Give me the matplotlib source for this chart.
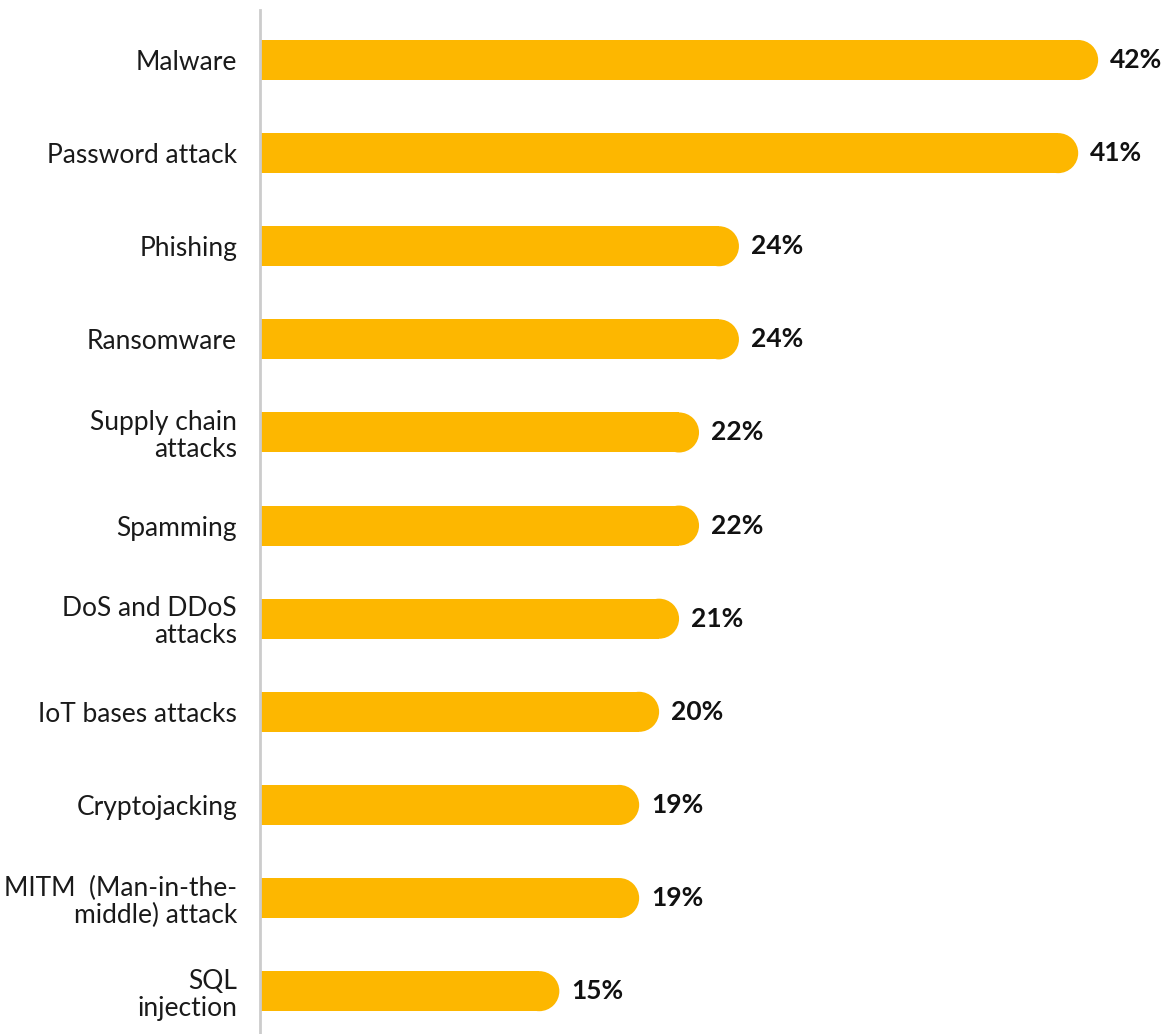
import matplotlib
matplotlib.use('Agg')
import matplotlib.pyplot as plt
from matplotlib.patches import Ellipse, Rectangle

plt.rcParams['font.family'] = ['Lato', 'DejaVu Sans']

# attack types, top to bottom
categories = ['Malware', 'Password attack', 'Phishing', 'Ransomware',
              'Supply chain\nattacks', 'Spamming', 'DoS and DDoS\nattacks',
              'IoT bases attacks', 'Cryptojacking',
              'MITM  (Man-in-the-\nmiddle) attack', 'SQL\ninjection']
shares = [42, 41, 24, 24, 22, 22, 21, 20, 19, 19, 15]

BAR_COLOR = '#FDB700'
BAR_H = 0.43

W, H = 1166, 1034
fig = plt.figure(figsize=(W / 100., H / 100.), dpi=100)
ax = fig.add_axes([260. / W, 0., 1. - 260. / W, 1024. / H])
ax.set_xlim(0, 45.4)
ax.set_ylim(len(categories) - 1 + 0.46, -0.537)

# pixels per percent, so the round cap comes out circular
x_px = ax.transData.transform((1, 0))[0] - ax.transData.transform((0, 0))[0]
y_px = abs(ax.transData.transform((0, 0))[1] - ax.transData.transform((0, 1))[1])
r = BAR_H * y_px / 2. / x_px

for i, v in enumerate(shares):
    ax.add_patch(Rectangle((0, i - BAR_H / 2.), v - r, BAR_H,
                           facecolor=BAR_COLOR, edgecolor='none'))
    ax.add_patch(Ellipse((v - r, i), 2 * r, BAR_H,
                         facecolor=BAR_COLOR, edgecolor='none'))
    ax.text(v + 0.6, i, '{}%'.format(v), va='center', ha='left',
            fontsize=19, fontweight='bold', color='#111111')

ax.set_yticks(range(len(categories)))
ax.set_yticklabels(categories, fontsize=19, color='#1a1a1a', linespacing=1.1)
ax.tick_params(axis='y', length=0, pad=16.5)
ax.set_xticks([])

for s in ['top', 'right', 'bottom']:
    ax.spines[s].set_visible(False)
ax.spines['left'].set_color('#cccccc')
ax.spines['left'].set_linewidth(2)

fig.savefig('out.png', dpi=100)
